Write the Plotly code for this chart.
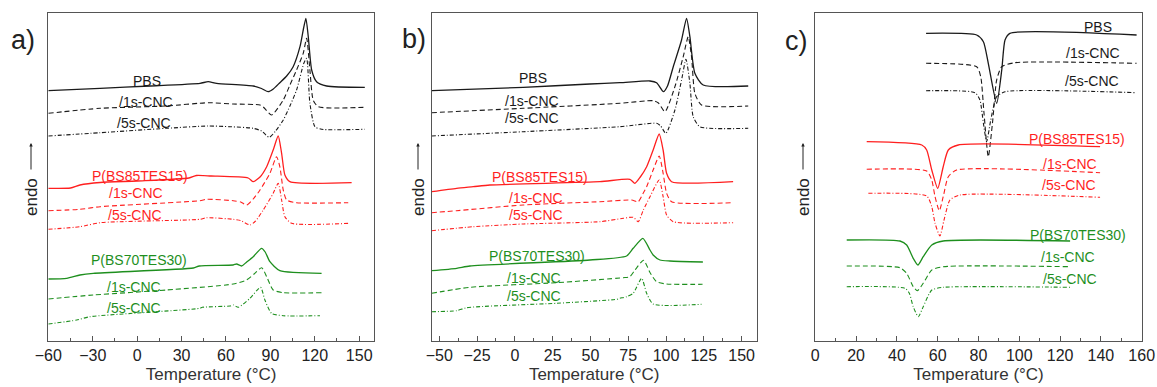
import plotly.graph_objects as go

# ---------------- data: (temperature °C, heat flow a.u.) ----------------
# Panel a
a_pbs = [(-60, 259.3), (-25, 261.7), (8.7, 264), (42.5, 266.7), (48, 268.3), (53.7, 266.7), (78.4, 264), (84, 261.5),
         (88.5, 258.3), (92, 261), (96.4, 267.3), (101, 274), (105.4, 283.3), (110, 303.3), (112.2, 320), (114, 331.7),
         (115.6, 313.3), (117.9, 280), (121.2, 268.3), (128, 264), (153.8, 262.7)]
a_pbs_1s = [(-60, 236.7), (-25, 241.7), (19.9, 244), (48, 247.3), (64.9, 246), (83, 245), (85.2, 243), (90.8, 235),
            (98.7, 250), (103.2, 265), (107.7, 280), (112.2, 296.7), (114.5, 311.7), (116.7, 280), (118.9, 250),
            (122.3, 243.3), (153.8, 242.7)]
a_pbs_5s = [(-60, 214), (-25, 217.3), (19.9, 221.7), (47.8, 224), (62.7, 223.3), (78.4, 221.7), (84, 219), (89.2, 212.7),
            (93.5, 219), (98.7, 230), (103.2, 244), (107.7, 260), (112.6, 286.7), (114.5, 291.7), (116.7, 246.7),
            (120.1, 223.3), (124.6, 220.7), (153.8, 220.7)]
a_t15 = [(-60, 161.7), (-45, 162), (-38.6, 165), (-25, 167.5), (0, 169), (35, 172), (40, 174.5), (50, 174), (75, 172),
         (78.4, 168.3), (83, 173), (87.5, 183.3), (91.9, 200), (95.3, 214), (97.6, 196.7), (99.8, 175), (103.2, 168.3),
         (144.9, 167.3)]
a_t15_1s = [(-60, 139.3), (-38.6, 140.7), (-25, 143.3), (42.4, 149.3), (47, 150.7), (64.9, 149.3), (70, 148), (74, 145),
            (78.4, 151), (83, 160), (89.7, 176.7), (94.2, 193.3), (96.4, 183.3), (98.7, 160), (101, 150), (107.7, 147.3),
            (142.6, 147.3)]
a_t15_5s = [(-60, 120.7), (-38.6, 123.3), (-25, 127.3), (42.4, 130.7), (47, 132.3), (64.9, 130.7), (70, 129.5), (76.2, 125),
            (80, 129), (85.2, 140), (91.9, 156.7), (95.3, 166.7), (97.6, 150), (99.8, 133.3), (104.3, 126.7), (143.7, 126.7)]
a_t30 = [(-60, 71), (-47.6, 71.7), (-38.6, 75), (-29.6, 76.7), (38, 82), (42, 84), (64.9, 85), (67.2, 86), (70.6, 84),
         (74, 88), (78.4, 93.3), (84.1, 101.7), (86.5, 98), (89.7, 88.3), (96.4, 79.3), (124.6, 76.7)]
a_t30_1s = [(-60, 51), (-29.6, 55), (19.9, 60), (64.9, 66), (73.9, 70), (79, 76), (84.1, 82.3), (87.5, 73.3), (91.9, 60),
            (98.7, 57.3), (124.6, 57.3)]
a_t30_5s = [(-60, 26), (-40.8, 30), (-31.8, 33.3), (42.4, 41.7), (44, 42.7), (62.7, 44), (65, 45), (68.3, 42.7),
            (76.2, 51.7), (83.4, 62.7), (86.3, 50), (90.8, 36.7), (98.7, 34.3), (123.5, 34.3)]

# Panel b
b_pbs = [(-55, 259.3), (5.6, 262.7), (49.7, 266), (69.5, 267.3), (89.4, 269), (93.8, 267.3), (98.3, 258.3), (101, 264),
         (104.8, 283.3), (110.3, 310), (113.6, 331.7), (115.8, 313.3), (119.1, 276.7), (124.6, 265), (154.4, 264)]
b_pbs_1s = [(-55, 237.3), (5.6, 241.7), (69.5, 246.7), (91.5, 249.3), (95, 247), (99.3, 238.3), (105.9, 263.3),
            (111.4, 293.3), (114.7, 313.3), (116.9, 293.3), (119.1, 256.7), (123.5, 245), (154.4, 244)]
b_pbs_5s = [(-55, 214), (5.6, 218.3), (69.5, 223.3), (93.8, 226.7), (96.5, 224), (99.9, 216.7), (105.9, 240), (110.3, 270),
            (113.2, 290.7), (115.8, 266.7), (118, 233.3), (122.4, 223.3), (154.4, 221.7)]
b_t15 = [(-55, 158.3), (-38.5, 161.7), (-27.5, 163.3), (-16.5, 165), (56.3, 168.3), (76.1, 170.7), (79.4, 166.7), (83, 173),
         (87.2, 183.3), (91.5, 200), (95.5, 216), (98.1, 200), (100.4, 176.7), (103.7, 168.3), (144.4, 168.3)]
b_t15_1s = [(-55, 137.3), (-38.5, 139.3), (5.6, 145), (56.3, 148.3), (77.3, 150), (81.6, 148.3), (84.9, 156.7),
            (87.2, 163.3), (91.5, 180), (95.5, 194), (98.1, 176.7), (100.4, 156.7), (103.7, 148.3), (144.4, 147.3)]
b_t15_5s = [(-55, 119.3), (-27.5, 123.3), (5.6, 126), (56.3, 128.3), (71.7, 131.7), (78.3, 132.7), (81.6, 128.3), (85, 140),
            (89.4, 153.3), (95.5, 170), (98.1, 153.3), (100.4, 135), (104.8, 128.3), (144.4, 127.3)]
b_t30 = [(-55, 79.3), (-38.5, 81.7), (-29.7, 84), (49.7, 90), (73.9, 94), (78.3, 101.7), (84.7, 111.7), (89.4, 100),
         (91.5, 95), (96, 90), (102.6, 89), (124.4, 88)]
b_t30_1s = [(-55, 56.7), (-29.7, 62.7), (27.6, 67.3), (71.7, 72.3), (76.1, 73.3), (79.5, 80), (85.2, 89.7), (89.4, 77.5),
            (93.8, 68.3), (100.4, 66), (124.2, 65.7)]
b_t30_5s = [(-55, 38.3), (-38.5, 39.3), (-31.9, 42.3), (27.6, 46.7), (67.3, 50.7), (69.5, 51.7), (73.9, 53.3), (78.3, 56.7),
            (83.9, 71.7), (87.2, 56.7), (91.5, 46), (123.5, 45.7)]

# Panel c (cooling)
c_pbs = [(54.3, 316.7), (79.1, 315), (82.4, 308.3), (84.8, 286.7), (88.9, 246.7), (91.4, 280), (93, 310), (95.4, 316.7),
         (157.5, 315)]
c_pbs_1s = [(54.3, 286.7), (79.1, 283.3), (81.1, 273.3), (82.7, 236.7), (84.8, 193.3), (87, 230), (88.9, 270), (91.4, 283.3),
            (97.9, 287.3), (157.5, 286.7)]
c_pbs_5s = [(54.3, 259.3), (78.3, 257.3), (80.7, 250), (82.4, 226.7), (84, 208.3), (86, 230), (88.9, 253.3), (93, 258.3),
            (157.5, 257.3)]
c_t15 = [(25.2, 208.3), (52.2, 205), (54.6, 200), (57.1, 180), (60, 161.7), (62.7, 183.3), (65.2, 200), (70.1, 205),
         (139.6, 203.3)]
c_t15_1s = [(25.2, 180.7), (54.6, 179), (57.1, 170), (58.7, 153.3), (60.8, 139.3), (62.7, 153.3), (65.2, 173.3), (69.3, 180),
            (139.6, 177.3)]
c_t15_5s = [(26, 156.7), (54.6, 154), (57.1, 143.3), (58.7, 126.7), (61.1, 114), (63.1, 130), (66, 150), (70.9, 155),
            (139.6, 152.7)]
c_t30 = [(15.4, 110), (41.5, 109), (44.8, 105), (48, 91.7), (50.3, 85), (52.9, 93.3), (57.1, 105), (62.7, 109), (124.9, 109)]
c_t30_1s = [(15.4, 84), (41.5, 82.3), (44.8, 76.7), (48, 63.3), (50, 59.3), (52.9, 66.7), (57.1, 80), (62.7, 83.3),
            (124.9, 83.3)]
c_t30_5s = [(15.4, 63.3), (44, 61.7), (46.1, 56.7), (48, 43.3), (50.5, 33.3), (52.9, 43.3), (57.1, 60), (62.7, 62.7),
            (124.9, 62.7)]

series_names = ["PBS", "/1s-CNC", "/5s-CNC", "P(BS85TES15)", "/1s-CNC", "/5s-CNC", "P(BS70TES30)", "/1s-CNC", "/5s-CNC"]
panel_curves = {
    "a": [a_pbs, a_pbs_1s, a_pbs_5s, a_t15, a_t15_1s, a_t15_5s, a_t30, a_t30_1s, a_t30_5s],
    "b": [b_pbs, b_pbs_1s, b_pbs_5s, b_t15, b_t15_1s, b_t15_5s, b_t30, b_t30_1s, b_t30_5s],
    "c": [c_pbs, c_pbs_1s, c_pbs_5s, c_t15, c_t15_1s, c_t15_5s, c_t30, c_t30_1s, c_t30_5s],
}
# label anchor positions (T, heat flow) for each series label
label_pos = {
    "a": [(6.4, 269.3), (5.8, 248.3), (4.6, 226.7), (1.9, 174), (-0.8, 156.7), (-1.5, 135), (1.4, 90), (-1.9, 63.3), (-2.1, 41.7)],
    "b": [(12.2, 271.7), (11.1, 249), (11.1, 231.7), (16.6, 173.3), (14, 151.7), (14, 135), (14.4, 94), (12.6, 71.7), (12.6, 54)],
    "c": [(138.7, 322.7), (136.3, 296.7), (135.5, 269.3), (128.1, 210.7), (124.9, 186), (124.4, 165), (128.9, 115), (124, 92.7), (124.9, 70.7)],
}
x_ranges = {"a": [-60, 160], "b": [-55, 160], "c": [0, 160]}
x_dtick = {"a": 30, "b": 25, "c": 20}
x_tick0 = {"a": -60, "b": -50, "c": 0}

# ---------------- styling ----------------
W, H = 1157, 387
TOP, BOT = 13, 341  # plot area top / bottom in page pixels
FONT = "Liberation Sans, Arial, sans-serif"
colors = ["#1a1a1a"] * 3 + ["#ff1f1f"] * 3 + ["#1e8f1e"] * 3
dashes = ["solid", "5px,3px", "4px,2px,1px,2px"] * 3
widths = [1.3, 1.1, 1.1] * 3
domains = {"a": (48.3, 374), "b": (431.7, 756.7), "c": (815.3, 1141.7)}
axis_ids = {"a": ("x", "y", "xaxis", "yaxis"), "b": ("x2", "y2", "xaxis2", "yaxis2"), "c": ("x3", "y3", "xaxis3", "yaxis3")}


def px_to_paper(px, py):
    return px / W, (BOT - py) / (BOT - TOP)


fig = go.Figure()
annotations = []
layout = {}
for p in ["a", "b", "c"]:
    xr, yr, xk, yk = axis_ids[p]
    for i, pts in enumerate(panel_curves[p]):
        fig.add_trace(go.Scatter(
            x=[t for t, _ in pts], y=[v for _, v in pts], xaxis=xr, yaxis=yr, mode="lines",
            line=dict(color=colors[i], width=widths[i], dash=dashes[i], shape="spline", smoothing=0.6),
            name=series_names[i], showlegend=False, hoverinfo="skip"))
        lx, ly = label_pos[p][i]
        annotations.append(dict(x=lx, y=ly, xref=xr, yref=yr, text=series_names[i], showarrow=False,
                                font=dict(family=FONT, size=14, color=colors[i])))
    d0, d1 = domains[p]
    layout[xk] = dict(domain=[d0 / W, d1 / W], range=x_ranges[p], tick0=x_tick0[p], dtick=x_dtick[p],
                      automargin=False,
                      showline=True, linecolor="#555", linewidth=1.3, mirror=True, showgrid=False, zeroline=False,
                      ticks="inside", ticklen=5, tickcolor="#555", tickwidth=1,
                      minor=dict(ticks="inside", ticklen=3, dtick=x_dtick[p] / 2, tickcolor="#555", showgrid=False),
                      tickfont=dict(family=FONT, size=16, color="#222"),
                      title=dict(text="Temperature (°C)", font=dict(family=FONT, size=17, color="#333"), standoff=4),
                      anchor=yr)
    layout[yk] = dict(domain=[0, 1], range=[9, 337], automargin=False, showline=True, linecolor="#555",
                      linewidth=1.3, mirror=True, showgrid=False, zeroline=False, showticklabels=False, ticks="",
                      anchor=xr)
    # y label "endo" with arrow
    ex = {"a": 31, "b": 418, "c": 803}[p]
    x0, y0 = px_to_paper(ex, 197)
    annotations.append(dict(x=x0, y=y0, xref="paper", yref="paper", text="endo", textangle=-90,
                            xanchor="center", yanchor="middle", showarrow=False,
                            font=dict(family=FONT, size=17, color="#222")))
    x1, y1 = px_to_paper(ex, 143)
    annotations.append(dict(x=x1, y=y1, xref="paper", yref="paper", text="", showarrow=True,
                            ax=0, ay=28, arrowhead=2, arrowsize=0.7, arrowwidth=1, arrowcolor="#222"))
    lbl = {"a": (23, 40), "b": (414, 39), "c": (796, 41)}[p]
    x2, y2 = px_to_paper(*lbl)
    annotations.append(dict(x=x2, y=y2, xref="paper", yref="paper", text=p + ")", xanchor="center",
                            yanchor="middle", showarrow=False, font=dict(family=FONT, size=27, color="#222")))

fig.update_layout(template="none", width=W, height=H, margin=dict(l=0, r=0, t=TOP, b=H - BOT, autoexpand=False),
                  plot_bgcolor="white", paper_bgcolor="white", annotations=annotations, **layout)
fig.write_html("out.html", config={"displayModeBar": False},
               post_script="document.body.style.margin='0px';document.body.style.padding='0px';")
